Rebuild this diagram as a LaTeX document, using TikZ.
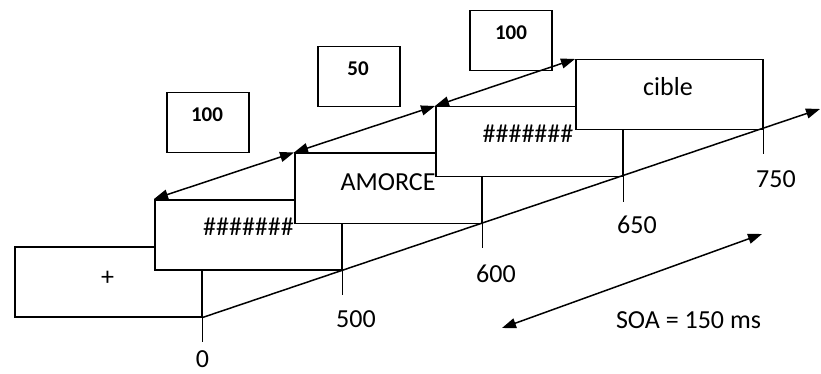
\documentclass[tikz,border=0pt]{standalone}
\usepackage{fontspec}
\setmainfont{Carlito}
\usetikzlibrary{arrows.meta}
\begin{document}
\begin{tikzpicture}[x=1pt,y=-1pt,
  lw/.style={line width=1.5pt},
  stim/.style={draw, lw, fill=white, minimum width=187pt, minimum height=70pt, inner sep=0pt, anchor=north west},
  dur/.style={draw, lw, fill=white, minimum width=82pt, minimum height=60pt, inner sep=0pt, anchor=north west},
  txt/.style={anchor=base, inner sep=0pt, font=\fontsize{26}{30}\selectfont},
  btxt/.style={anchor=base, inner sep=0pt, font=\fontsize{21}{25}\selectfont\bfseries},
  tip/.tip={Triangle[length=14pt,width=10pt]},
  dbl/.style={lw, tip-tip},
  ]
\useasboundingbox (0,0) rectangle (821,374);

% duration boxes
\node[dur] (d1) at (166,92) {};
\node[btxt] (t1) at (207,122) {100};
\node[dur] (d2) at (317,46) {};
\node[btxt] (t2) at (358,76) {50};
\node[dur] (d3) at (469,10) {};
\node[btxt] (t3) at (511,40) {100};

% stimulus boxes
\node[stim] (b0) at (14,246) {};
\node[txt] (s0) at (107.5,285) {+};
\node[stim] (b1) at (154,199) {};
\node[txt] (s1) at (248.5,235) {\#\#\#\#\#\#\#};
\node[stim] (b2) at (294,152.5) {};
\node[txt] (s2) at (388,190) {AMORCE};
\node[stim] (b3) at (435,106) {};
\node[txt] (s3) at (528,143) {\#\#\#\#\#\#\#};
\node[stim] (b4) at (575,59) {};
\node[txt] (s4) at (668,96) {cible};

% ticks
\foreach \i in {0,...,4}{
  \draw[lw] (b\i.south east) -- ++(0,24);
}

% time axis
\coordinate (axend) at (820,109);
\draw[lw, -tip] (b0.south east) -- (axend);

% tick labels
\node[txt] (l0) at (202.5,367) {0};
\node[txt] (l1) at (356,327) {500};
\node[txt] (l2) at (496,282) {600};
\node[txt] (l3) at (637,233) {650};
\node[txt] (l4) at (776,187) {750};

% interval arrows
\draw[dbl] (b1.north west) -- (b2.north west);
\draw[dbl] (b2.north west) -- (b3.north west);
\draw[dbl] (b3.north west) -- (b4.north west);

% SOA
\coordinate (soa1) at (502,328);
\coordinate (soa2) at (762,234);
\draw[dbl] (soa1) -- (soa2);
\node[txt] (soa) at (688.5,328) {SOA = 150 ms};
\end{tikzpicture}
\end{document}
